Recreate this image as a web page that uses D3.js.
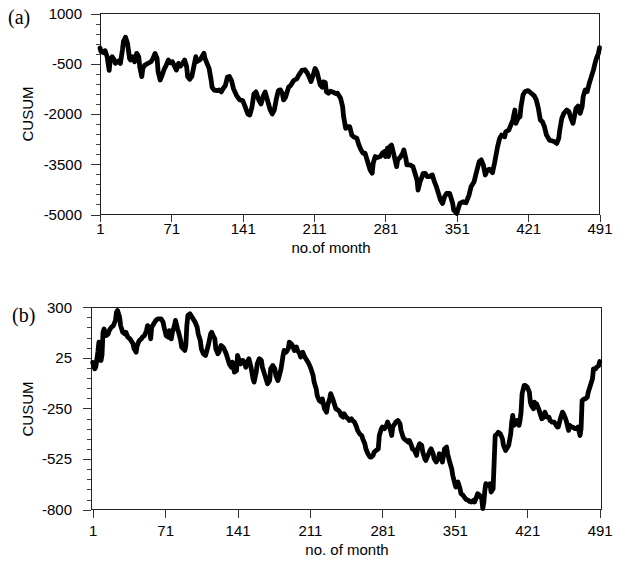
<!DOCTYPE html>
<html>
<head>
<meta charset="utf-8">
<script src="https://cdn.jsdelivr.net/npm/d3@7"></script>
<style>
  body { margin: 0; background: #fff; }
  svg { display: block; }
</style>
</head>
<body>
<svg id="chart" width="621" height="569"></svg>
<script>
// Month tick labels shared by both panels
const monthTicks = [1, 71, 141, 211, 281, 351, 421, 491];

// Panel (a): CUSUM by month
const monthsA = [1,2,5,6,8,10,11,13,15,16,19,21,23,24,26,28,30,31,33,35,37,39,40,42,43,45,48,51,53,55,57,58,60,62,64,66,68,70,72,74,76,78,80,82,84,86,87,89,91,93,95,96,98,99,101,103,104,106,108,110,111,113,116,118,120,122,124,126,128,130,132,135,138,141,143,146,148,150,152,154,157,159,161,163,165,168,170,172,174,176,178,180,181,183,186,188,191,194,196,199,202,204,206,208,210,212,214,217,219,220,222,223,225,227,230,232,234,237,239,240,242,244,246,248,250,253,255,257,259,261,262,264,266,268,269,271,273,276,278,280,281,283,284,285,287,289,292,293,296,298,299,301,302,305,308,310,312,313,315,317,318,320,322,324,327,328,329,331,333,335,337,339,341,344,345,347,348,351,352,354,357,360,363,365,368,370,373,375,377,379,381,383,386,388,391,393,395,398,399,402,404,406,408,409,411,413,414,416,418,421,424,427,429,431,433,435,437,439,442,444,447,449,451,452,454,456,459,461,463,465,467,468,470,472,474,475,477,479,481,483,485,487,488,490,491];
const cusumA = [-30,-140,-170,-110,-290,-700,-390,-290,-390,-490,-420,-490,-90,160,290,110,-340,-390,-290,-440,-190,-290,-590,-885,-640,-540,-490,-440,-340,-190,-340,-735,-985,-835,-665,-540,-390,-470,-440,-570,-690,-490,-570,-490,-390,-590,-885,-965,-885,-590,-290,-440,-390,-390,-290,-190,-340,-490,-640,-985,-1205,-1285,-1305,-1280,-1340,-1230,-1150,-900,-880,-1000,-1250,-1450,-1580,-1600,-1750,-2000,-2030,-1800,-1400,-1340,-1600,-1700,-1480,-1340,-1560,-1880,-2000,-1880,-1550,-1300,-1280,-1400,-1580,-1500,-1200,-1150,-1000,-950,-840,-700,-680,-760,-880,-1030,-850,-640,-760,-1130,-1200,-1040,-1060,-1330,-1380,-1320,-1350,-1390,-1380,-1530,-1780,-2080,-2430,-2380,-2380,-2630,-2680,-2730,-2925,-3070,-3170,-3170,-3270,-3470,-3670,-3770,-3470,-3270,-3300,-3270,-3170,-3120,-3270,-3020,-3270,-2980,-2930,-3180,-3570,-3370,-3270,-3170,-3070,-3320,-3520,-3520,-3570,-3770,-3970,-4270,-4020,-3870,-3770,-3770,-3870,-3870,-3820,-3920,-4020,-4170,-4370,-4570,-4670,-4470,-4370,-4370,-4470,-4670,-4870,-4970,-4870,-4670,-4620,-4650,-4420,-4170,-4020,-3770,-3420,-3370,-3520,-3820,-3670,-3650,-3750,-3470,-2980,-2730,-2630,-2680,-2530,-2480,-2330,-2180,-1880,-2280,-2130,-2080,-1780,-1430,-1330,-1300,-1380,-1460,-1580,-1830,-2180,-2230,-2380,-2630,-2780,-2800,-2830,-2880,-2730,-2480,-2130,-1980,-1880,-1930,-2130,-2280,-1980,-1830,-1760,-1980,-1780,-1480,-1280,-1330,-1080,-890,-690,-440,-340,-190,-20];

// Panel (b): CUSUM by month
const monthsB = [1,2,3,4,6,7,8,9,10,11,12,14,16,17,19,21,23,24,25,27,28,30,32,33,35,37,38,40,41,43,44,46,48,49,51,53,54,56,57,58,60,62,64,67,69,70,72,74,75,77,78,80,81,83,84,86,87,90,91,92,93,95,97,99,100,102,103,105,106,108,110,111,113,115,116,117,119,120,122,123,125,127,128,130,131,133,135,136,138,140,141,143,144,146,148,149,151,152,154,156,157,159,160,162,164,165,167,169,170,172,173,175,177,178,180,181,183,185,186,188,190,191,193,194,196,198,199,201,202,204,206,207,209,210,212,214,215,217,218,220,222,223,225,227,228,230,231,233,235,236,238,240,241,243,244,246,248,249,251,252,254,256,257,259,261,262,264,265,267,269,270,272,273,275,277,278,280,281,283,285,286,288,290,291,293,294,296,298,299,301,302,304,306,307,309,310,312,314,315,317,319,320,322,323,325,327,328,330,331,333,335,336,338,339,341,343,344,346,348,349,351,352,354,356,357,359,360,362,364,365,367,369,370,372,373,375,377,378,379,380,381,383,385,386,388,389,390,392,393,395,397,398,400,401,403,405,406,407,408,410,411,413,414,415,416,418,419,421,423,424,425,427,428,429,430,432,434,435,437,438,440,442,443,445,447,448,450,451,453,455,456,458,459,461,462,464,465,467,468,470,472,473,474,476,477,479,480,482,484,485,487,488,490,491];
const cusumB = [0,-20,-35,-25,56,110,65,10,40,164,182,146,155,173,191,200,228,273,282,246,200,164,155,164,137,128,119,101,74,56,92,119,128,137,146,173,200,182,128,191,210,228,237,237,219,191,146,137,173,128,164,200,228,182,164,119,83,65,92,200,255,264,246,228,218,191,155,119,74,47,38,56,101,155,164,150,128,74,47,56,92,83,74,47,29,-8,-26,2,-53,-44,38,2,-8,11,-8,-26,11,20,-26,-89,-107,-53,-8,20,11,-26,-62,-98,-116,-98,-35,-17,-35,-71,-98,-80,-35,38,65,56,74,110,101,92,65,83,65,47,29,56,29,20,2,-8,-35,-71,-107,-143,-180,-207,-216,-198,-252,-270,-234,-198,-170,-198,-234,-252,-258,-270,-288,-297,-279,-297,-306,-315,-306,-315,-324,-351,-369,-388,-397,-415,-442,-469,-496,-514,-514,-505,-487,-478,-469,-397,-360,-351,-360,-342,-324,-351,-397,-351,-333,-324,-315,-333,-369,-406,-415,-424,-433,-424,-451,-469,-478,-505,-469,-442,-451,-487,-523,-532,-505,-478,-469,-496,-523,-541,-523,-496,-505,-541,-469,-460,-496,-541,-578,-614,-659,-677,-650,-686,-713,-722,-731,-745,-749,-755,-758,-749,-758,-731,-713,-722,-740,-794,-760,-695,-659,-668,-659,-704,-686,-541,-397,-388,-379,-388,-415,-451,-478,-469,-451,-388,-324,-288,-342,-333,-315,-342,-315,-270,-170,-125,-125,-134,-161,-216,-234,-252,-216,-234,-225,-252,-288,-306,-297,-270,-297,-297,-315,-324,-324,-333,-351,-351,-306,-270,-279,-306,-324,-369,-342,-351,-351,-360,-360,-351,-397,-360,-207,-198,-198,-189,-161,-125,-89,-35,-35,-26,-17,5];

// Major value ticks and minor-tick step for each panel
const yTicksA = [1000, -500, -2000, -3500, -5000];
const yMinorStepA = 300;
const yTicksB = [300, 25, -250, -525, -800];
const yMinorStepB = 55;

const panelLabels = ["(a)", "(b)"];
const xTitles = ["no.of month", "no. of month"];
const yTitle = "CUSUM";

const svg = d3.select("#chart");
const sans = '"Liberation Sans", Arial, sans-serif';
const serif = '"Liberation Serif", "Times New Roman", serif';
const plain = d => String(d);

const panels = [
  {
    months: monthsA, values: cusumA, yTicks: yTicksA, minorStep: yMinorStepA,
    label: panelLabels[0], xTitle: xTitles[0],
    axisX: 100, frameRight: 599.5, xRange: [100, 599.5],
    yRange: [214.5, 13.5], yTickSize: 9, yPad: 9, xTickSize: 7, xPad: 1.5,
    labelPos: [8, 24], xTitlePos: [331, 253], yTitlePos: [33, 114],
    xTitleSize: 15
  },
  {
    months: monthsB, values: cusumB, yTicks: yTicksB, minorStep: yMinorStepB,
    label: panelLabels[1], xTitle: xTitles[1],
    axisX: 91, frameRight: 601.5, xRange: [92.7, 599.7],
    yRange: [509.7, 307.2], yTickSize: 8, yPad: 11, xTickSize: 8, xPad: 8,
    labelPos: [12, 322], xTitlePos: [347, 554.5], yTitlePos: [33, 409],
    xTitleSize: 15
  }
];

panels.forEach(p => {
  const ext = d3.extent(p.yTicks);
  const x = d3.scaleLinear().domain([1, 491]).range(p.xRange);
  const y = d3.scaleLinear().domain(ext).range(p.yRange);
  const g = svg.append("g");
  const top = p.yRange[1], bottom = p.yRange[0];

  // frame: top and right edges, bottom baseline
  g.append("path")
    .attr("d", `M${p.axisX},${top}H${p.frameRight}V${bottom}H${p.axisX}`)
    .attr("fill", "none").attr("stroke", "#222").attr("stroke-width", 1)
    .attr("shape-rendering", "crispEdges");

  // minor value ticks
  const minor = d3.range(ext[0], ext[1] + 0.001, p.minorStep);
  g.append("g")
    .attr("transform", `translate(${p.axisX},0)`)
    .call(d3.axisLeft(y).tickValues(minor).tickSize(4.5).tickFormat(""))
    .call(a => a.select(".domain").remove())
    .call(a => a.selectAll("line").attr("stroke", "#444").attr("shape-rendering", "crispEdges"));

  // major value ticks + labels
  g.append("g")
    .attr("transform", `translate(${p.axisX},0)`)
    .call(d3.axisLeft(y).tickValues(p.yTicks).tickFormat(plain)
      .tickSize(p.yTickSize).tickPadding(p.yPad).tickSizeOuter(0))
    .call(a => a.select(".domain").attr("stroke", "#222").attr("shape-rendering", "crispEdges"))
    .call(a => a.selectAll("line").attr("stroke", "#333").attr("shape-rendering", "crispEdges"))
    .call(a => a.selectAll("text").attr("font-size", 15).attr("font-family", sans).attr("fill", "#000"));

  // month axis
  g.append("g")
    .attr("transform", `translate(0,${bottom})`)
    .call(d3.axisBottom(x).tickValues(monthTicks).tickFormat(plain)
      .tickSize(p.xTickSize).tickPadding(p.xPad).tickSizeOuter(0))
    .call(a => a.select(".domain").remove())
    .call(a => a.selectAll("line").attr("stroke", "#333").attr("shape-rendering", "crispEdges"))
    .call(a => a.selectAll("text").attr("font-size", 15).attr("font-family", sans).attr("fill", "#000"));

  // CUSUM curve
  const line = d3.line()
    .x((d, i) => x(p.months[i]))
    .y(d => y(d));
  g.append("path")
    .datum(p.values)
    .attr("d", line)
    .attr("fill", "none")
    .attr("stroke", "#000")
    .attr("stroke-width", 4.8)
    .attr("stroke-linejoin", "round")
    .attr("stroke-linecap", "round");

  // titles
  g.append("text")
    .attr("x", p.xTitlePos[0]).attr("y", p.xTitlePos[1])
    .attr("text-anchor", "middle")
    .attr("font-family", sans).attr("font-size", p.xTitleSize)
    .text(p.xTitle);

  g.append("text")
    .attr("transform", `translate(${p.yTitlePos[0]},${p.yTitlePos[1]}) rotate(-90)`)
    .attr("text-anchor", "middle")
    .attr("font-family", sans).attr("font-size", 15)
    .text(yTitle);

  g.append("text")
    .attr("x", p.labelPos[0]).attr("y", p.labelPos[1])
    .attr("font-family", serif).attr("font-size", 20)
    .text(p.label);
});
</script>
</body>
</html>
